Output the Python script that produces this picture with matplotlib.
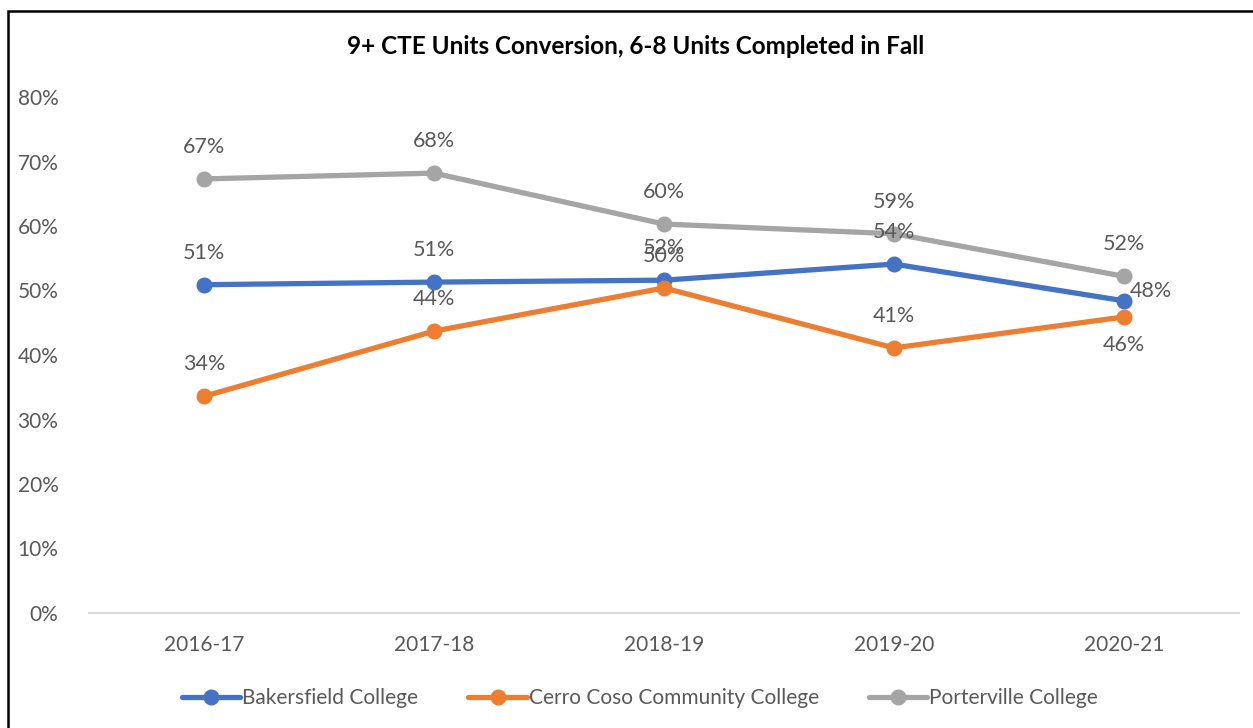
import matplotlib
matplotlib.use("Agg")
import matplotlib.pyplot as plt
from matplotlib.patches import Rectangle
from matplotlib.ticker import PercentFormatter

# data
years = ["2016-17", "2017-18", "2018-19", "2019-20", "2020-21"]
bakersfield = [0.509, 0.513, 0.516, 0.541, 0.484]
cerro_coso = [0.336, 0.437, 0.504, 0.411, 0.459]
porterville = [0.673, 0.682, 0.603, 0.588, 0.522]

# where excel put each data label
bakersfield_pos = ["above", "above", "above", "above", "right"]
cerro_coso_pos = ["above", "above", "above", "above", "below"]
porterville_pos = ["above", "above", "above", "above", "above"]

series = [
    ("Bakersfield College", bakersfield, bakersfield_pos, "#4472C4"),
    ("Cerro Coso Community College", cerro_coso, cerro_coso_pos, "#ED7D31"),
    ("Porterville College", porterville, porterville_pos, "#A5A5A5"),
]

text_col = "#595959"
plt.rcParams["font.family"] = ["Lato", "DejaVu Sans"]

fig = plt.figure(figsize=(12.53, 7.28), dpi=100)
ax = fig.add_axes([89 / 1253, 1 - 613 / 728, 1150 / 1253, 516 / 728])

x = list(range(len(years)))
for name, vals, pos, col in series:
    ax.plot(x, vals, color=col, lw=3.8, marker="o", ms=10.5, label=name,
            solid_capstyle="round")
    for xi, v, p in zip(x, vals, pos):
        if p == "above":
            off, ha, va = (0, 22), "center", "bottom"
        elif p == "below":
            off, ha, va = (0, -18), "center", "top"
        else:
            off, ha, va = (6, 10), "left", "center"
        ax.annotate(f"{v * 100:.0f}%", (xi, v), textcoords="offset pixels",
                    xytext=off, ha=ha, va=va, fontsize=15.5, color=text_col)

ax.set_xlim(-0.5, len(years) - 0.5)
ax.set_ylim(0, 0.8)
ax.set_yticks([i / 10 for i in range(9)])
ax.yaxis.set_major_formatter(PercentFormatter(1.0, decimals=0))
ax.set_xticks(x)
ax.set_xticklabels(years)
ax.tick_params(length=0, labelsize=15, labelcolor=text_col)
ax.tick_params(axis="y", pad=22)
ax.tick_params(axis="x", pad=16)
for s in ["top", "right", "left"]:
    ax.spines[s].set_visible(False)
ax.spines["bottom"].set_color("#D9D9D9")
ax.spines["bottom"].set_linewidth(1.5)

fig.text(636 / 1253, 1 - 47 / 728, "9+ CTE Units Conversion, 6-8 Units Completed in Fall",
         ha="center", va="center", fontsize=17.5, fontweight="bold", color="black")

fig.legend(loc="center", bbox_to_anchor=(640 / 1253, 1 - 698 / 728), ncol=3,
           frameon=False, fontsize=15, labelcolor=text_col, handlelength=2.8,
           handletextpad=0.1, columnspacing=2.4)

# chart border (right and bottom edges fall outside the crop)
fig.add_artist(Rectangle((8 / 1253, -0.05), 1.2, 1 - 11 / 728 + 0.05,
                         transform=fig.transFigure, fill=False, ec="black",
                         lw=1.8, clip_on=False))

fig.savefig("out.png", dpi=100)
